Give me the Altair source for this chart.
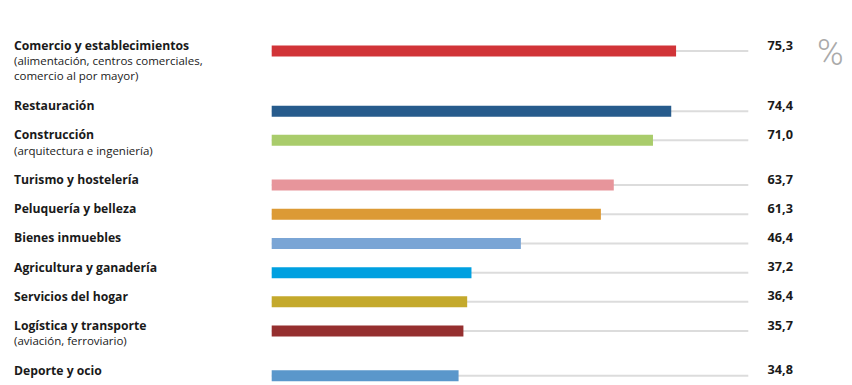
import altair as alt
import pandas as pd

categories = [
    "Comercio y establecimientos",
    "Restauración",
    "Construcción",
    "Turismo y hostelería",
    "Peluquería y belleza",
    "Bienes inmuebles",
    "Agricultura y ganadería",
    "Servicios del hogar",
    "Logística y transporte",
    "Deporte y ocio",
]
subtitles = [
    "(alimentación, centros comerciales,\ncomercio al por mayor)",
    "",
    "(arquitectura e ingeniería)",
    "",
    "",
    "",
    "",
    "",
    "(aviación, ferroviario)",
    "",
]
values = [75.3, 74.4, 71.0, 63.7, 61.3, 46.4, 37.2, 36.4, 35.7, 34.8]
colors = [
    "#d13438", "#275b8c", "#a9cc6b", "#e7959b", "#dc9a35",
    "#7aa5d5", "#00a0e0", "#c4a92c", "#952f2f", "#5a97cb",
]

TRACK_MAX = 88.75
EXTRA_LINE = 0.53  # extra row space per subtitle line (in row units)

# row positions derived from the number of subtitle lines of the previous rows
rows = []
pos = 0.0
for i, c in enumerate(categories):
    n_sub = (subtitles[i].count("\n") + 1) if subtitles[i] else 0
    rows.append({
        "cat": c,
        "sub": subtitles[i],
        "value": values[i],
        "label": f"{values[i]:.1f}".replace(".", ","),
        "color": colors[i],
        "row": pos,
    })
    pos += 1 + EXTRA_LINE * n_sub
df = pd.DataFrame(rows)
row_max = df["row"].max()

ROW_PX = 29.2
xs = alt.Scale(domain=[0, TRACK_MAX], range=[263.7, 740.3])
ys = alt.Scale(domain=[0, row_max], range=[43, 43 + row_max * ROW_PX])

base = alt.Chart(df)
y_enc = alt.Y("row:Q", scale=ys, axis=None)

track = base.mark_rule(color="#dcdcdc", strokeWidth=2).encode(
    x=alt.X("zero:Q", scale=xs, axis=None),
    x2=alt.datum(TRACK_MAX),
    y=y_enc,
).transform_calculate(zero="0")

bars = base.mark_rule(strokeWidth=11, strokeCap="butt").encode(
    x=alt.X("zero:Q", scale=xs, axis=None),
    x2="value:Q",
    y=y_enc,
    color=alt.Color("color:N", scale=None, legend=None),
).transform_calculate(zero="0")

FONT = "Open Sans"

titles = base.mark_text(
    align="left", baseline="alphabetic", font=FONT, fontSize=12.2,
    fontWeight="bold", color="#1a1a1a", dy=-1,
).encode(x=alt.value(6), y=y_enc, text="cat:N")

subs = base.mark_text(
    align="left", baseline="alphabetic", font=FONT, fontSize=11.5,
    color="#1a1a1a", dy=14.4, lineBreak="\n", lineHeight=14.3,
).encode(x=alt.value(6), y=y_enc, text="sub:N")

vals = base.mark_text(
    align="right", baseline="alphabetic", font=FONT, fontSize=12.7,
    fontWeight="bold", color="#1a1a1a", dy=-1.5,
).encode(x=alt.value(785), y=y_enc, text="label:N")

pct = alt.Chart(pd.DataFrame({"t": ["%"]})).mark_text(
    align="left", baseline="alphabetic", font="Roboto", fontSize=36,
    color="#aaaaaa", fontWeight=300,
).encode(x=alt.value(809), y=alt.value(57), text="t:N")

chart = alt.layer(track, bars, titles, subs, vals, pct).properties(
    width=836, height=377, padding=0,
    autosize=alt.AutoSizeParams(type="none"),
).configure_view(stroke=None)

chart.save("out.html", embed_options={"renderer": "svg", "actions": False})
